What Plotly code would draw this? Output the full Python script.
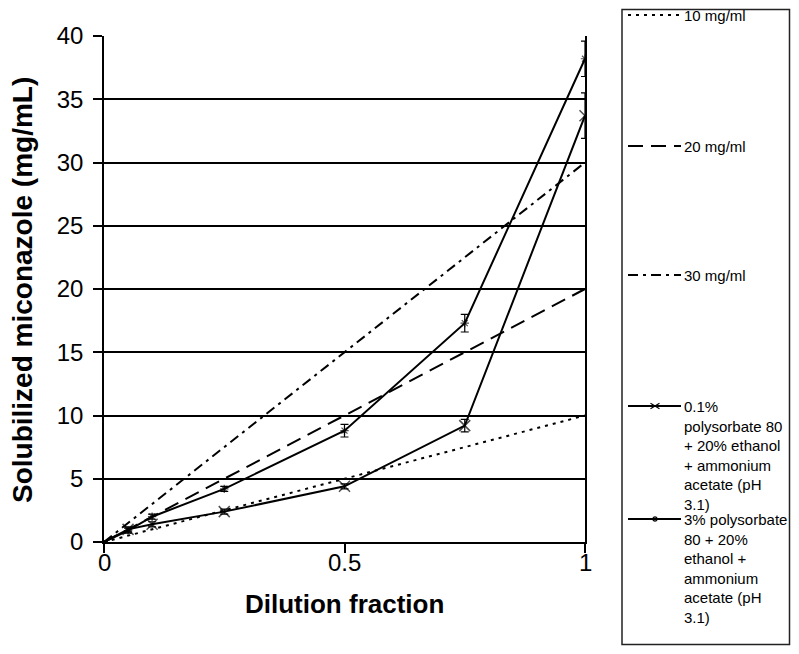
import plotly.graph_objects as go

# ---- data ----
dilution = [0, 0.05, 0.1, 0.25, 0.5, 0.75, 1]
pol01 = [0, 1.0, 1.4, 2.4, 4.4, 9.2, 33.7]
pol01_err = [0, 0.2, 0.2, 0.2, 0.2, 0.5, 1.8]
pol3 = [0, 0.9, 2.0, 4.2, 8.8, 17.3, 38.2]
pol3_err = [0, 0.2, 0.2, 0.2, 0.5, 0.7, 1.4]

ref_x = [0, 1]
ref10 = [0, 10]
ref20 = [0, 20]
ref30 = [0, 30]

x_tickvals = [0, 0.5, 1]
x_ticktext = ["0", "0.5", "1"]
y_tickvals = [0, 5, 10, 15, 20, 25, 30, 35, 40]

legend_labels = [
    "10 mg/ml",
    "20 mg/ml",
    "30 mg/ml",
    "0.1%<br>polysorbate 80<br>+ 20% ethanol<br>+ ammonium<br>acetate (pH<br>3.1)",
    "3% polysorbate<br>80 + 20%<br>ethanol +<br>ammonium<br>acetate (pH<br>3.1)",
]

FONT = "Liberation Sans, Arial, sans-serif"
OFF = 8  # page body margin
W, H = 799 - 2 * OFF, 654 - 2 * OFF
# plot area in page pixels: x 104..585, y 36..542
ML, MR = 104 - OFF, W - (585 - OFF)
MT, MB = 36 - OFF, H - (542 - OFF)
PW, PH = W - ML - MR, H - MT - MB


def px(x):
    return (x - OFF - ML) / PW


def py(y):
    return (H - MB - (y - OFF)) / PH


DASH10 = "3px,5px"
DASH20 = "15px,8px"
DASH30 = "10px,5px,3px,5px"

fig = go.Figure()
fig.add_trace(go.Scatter(x=ref_x, y=ref10, mode="lines",
                         line=dict(color="black", width=2, dash=DASH10)))
fig.add_trace(go.Scatter(x=ref_x, y=ref20, mode="lines",
                         line=dict(color="black", width=2, dash=DASH20)))
fig.add_trace(go.Scatter(x=ref_x, y=ref30, mode="lines",
                         line=dict(color="black", width=2, dash=DASH30)))

msize1 = [0] + [11] * (len(dilution) - 1)
msize2 = [0] + [7] * (len(dilution) - 1)
fig.add_trace(go.Scatter(
    x=dilution, y=pol01, mode="lines+markers",
    line=dict(color="black", width=2),
    marker=dict(symbol="x-thin-open", size=msize1, color="black",
                line=dict(color="black", width=1.5)),
    error_y=dict(type="data", array=pol01_err, color="black",
                 thickness=1.2, width=4)))
fig.add_trace(go.Scatter(
    x=dilution, y=pol3, mode="lines+markers",
    line=dict(color="black", width=2),
    marker=dict(symbol="asterisk-open", size=msize2, color="black",
                line=dict(color="black", width=1.2)),
    error_y=dict(type="data", array=pol3_err, color="black",
                 thickness=1.2, width=4)))

shapes = []
annotations = []
# legend box (kept inside the figure area)
shapes.append(dict(type="rect", xref="paper", yref="paper",
                   x0=px(622), x1=px(W + OFF - 1.5), y0=py(H + OFF - 1.5), y1=py(OFF + 1.5),
                   line=dict(color="#222", width=1.5)))
leg_y = [15, 146, 275, 406, 519]
leg_dash = [DASH10, DASH20, DASH30, "solid", "solid"]
for ly, lab, dsh in zip(leg_y, legend_labels, leg_dash):
    shapes.append(dict(type="line", xref="paper", yref="paper",
                       x0=px(628), x1=px(681), y0=py(ly), y1=py(ly),
                       line=dict(color="black", width=2, dash=dsh)))
    annotations.append(dict(xref="paper", yref="paper", x=px(682), y=py(ly - 10),
                            xanchor="left", yanchor="top", align="left",
                            showarrow=False, text=lab,
                            font=dict(family=FONT, size=15, color="black")))
# legend markers
cx, cy, s = 655, 406, 4.5
for sgn in (1, -1):
    shapes.append(dict(type="line", xref="paper", yref="paper",
                       x0=px(cx - s), x1=px(cx + s),
                       y0=py(cy - sgn * s * 0.6), y1=py(cy + sgn * s * 0.6),
                       line=dict(color="black", width=1.2)))
cx, cy, s = 655, 519, 3
for dx, dy in [(s, 0), (0, s), (s * 0.7, s * 0.7), (s * 0.7, -s * 0.7)]:
    shapes.append(dict(type="line", xref="paper", yref="paper",
                       x0=px(cx - dx), x1=px(cx + dx), y0=py(cy - dy), y1=py(cy + dy),
                       line=dict(color="black", width=1.2)))

# x tick labels (placed close under the axis, as in the reference)
for v, t in zip(x_tickvals, x_ticktext):
    annotations.append(dict(xref="x", yref="paper", x=v, y=py(562),
                            xanchor="center", yanchor="middle", showarrow=False,
                            text=t, font=dict(family=FONT, size=24, color="black")))

# axis titles
annotations.append(dict(xref="paper", yref="paper", x=px(344), y=py(604),
                        xanchor="center", yanchor="middle", showarrow=False,
                        text="<b>Dilution fraction</b>",
                        font=dict(family=FONT, size=26, color="black")))
annotations.append(dict(xref="paper", yref="paper", x=px(22), y=py(290),
                        xanchor="center", yanchor="middle", showarrow=False,
                        textangle=-90,
                        text="<b>Solubilized miconazole (mg/mL)</b>",
                        font=dict(family=FONT, size=28, color="black")))

fig.update_layout(
    width=W, height=H,
    margin=dict(l=ML, r=MR, t=MT, b=MB, pad=0),
    paper_bgcolor="white", plot_bgcolor="white",
    showlegend=False,
    font=dict(family=FONT, size=24, color="black"),
    shapes=shapes, annotations=annotations,
    xaxis=dict(range=[0, 1], tickvals=x_tickvals, showticklabels=False,
               showgrid=False, zeroline=False, showline=True, linecolor="black",
               linewidth=1.5, ticks="outside", ticklen=9, tickwidth=1.5,
               tickcolor="black", mirror=False),
    yaxis=dict(range=[0, 40], tickvals=y_tickvals,
               showgrid=True, gridcolor="black", gridwidth=1.5, zeroline=False,
               showline=True, linecolor="black", linewidth=1.5, mirror=True,
               ticks="outside", ticklen=9, tickwidth=1.5, tickcolor="black",
               tickfont=dict(size=24), ticklabelstandoff=5),
)

fig.write_html("out.html")
